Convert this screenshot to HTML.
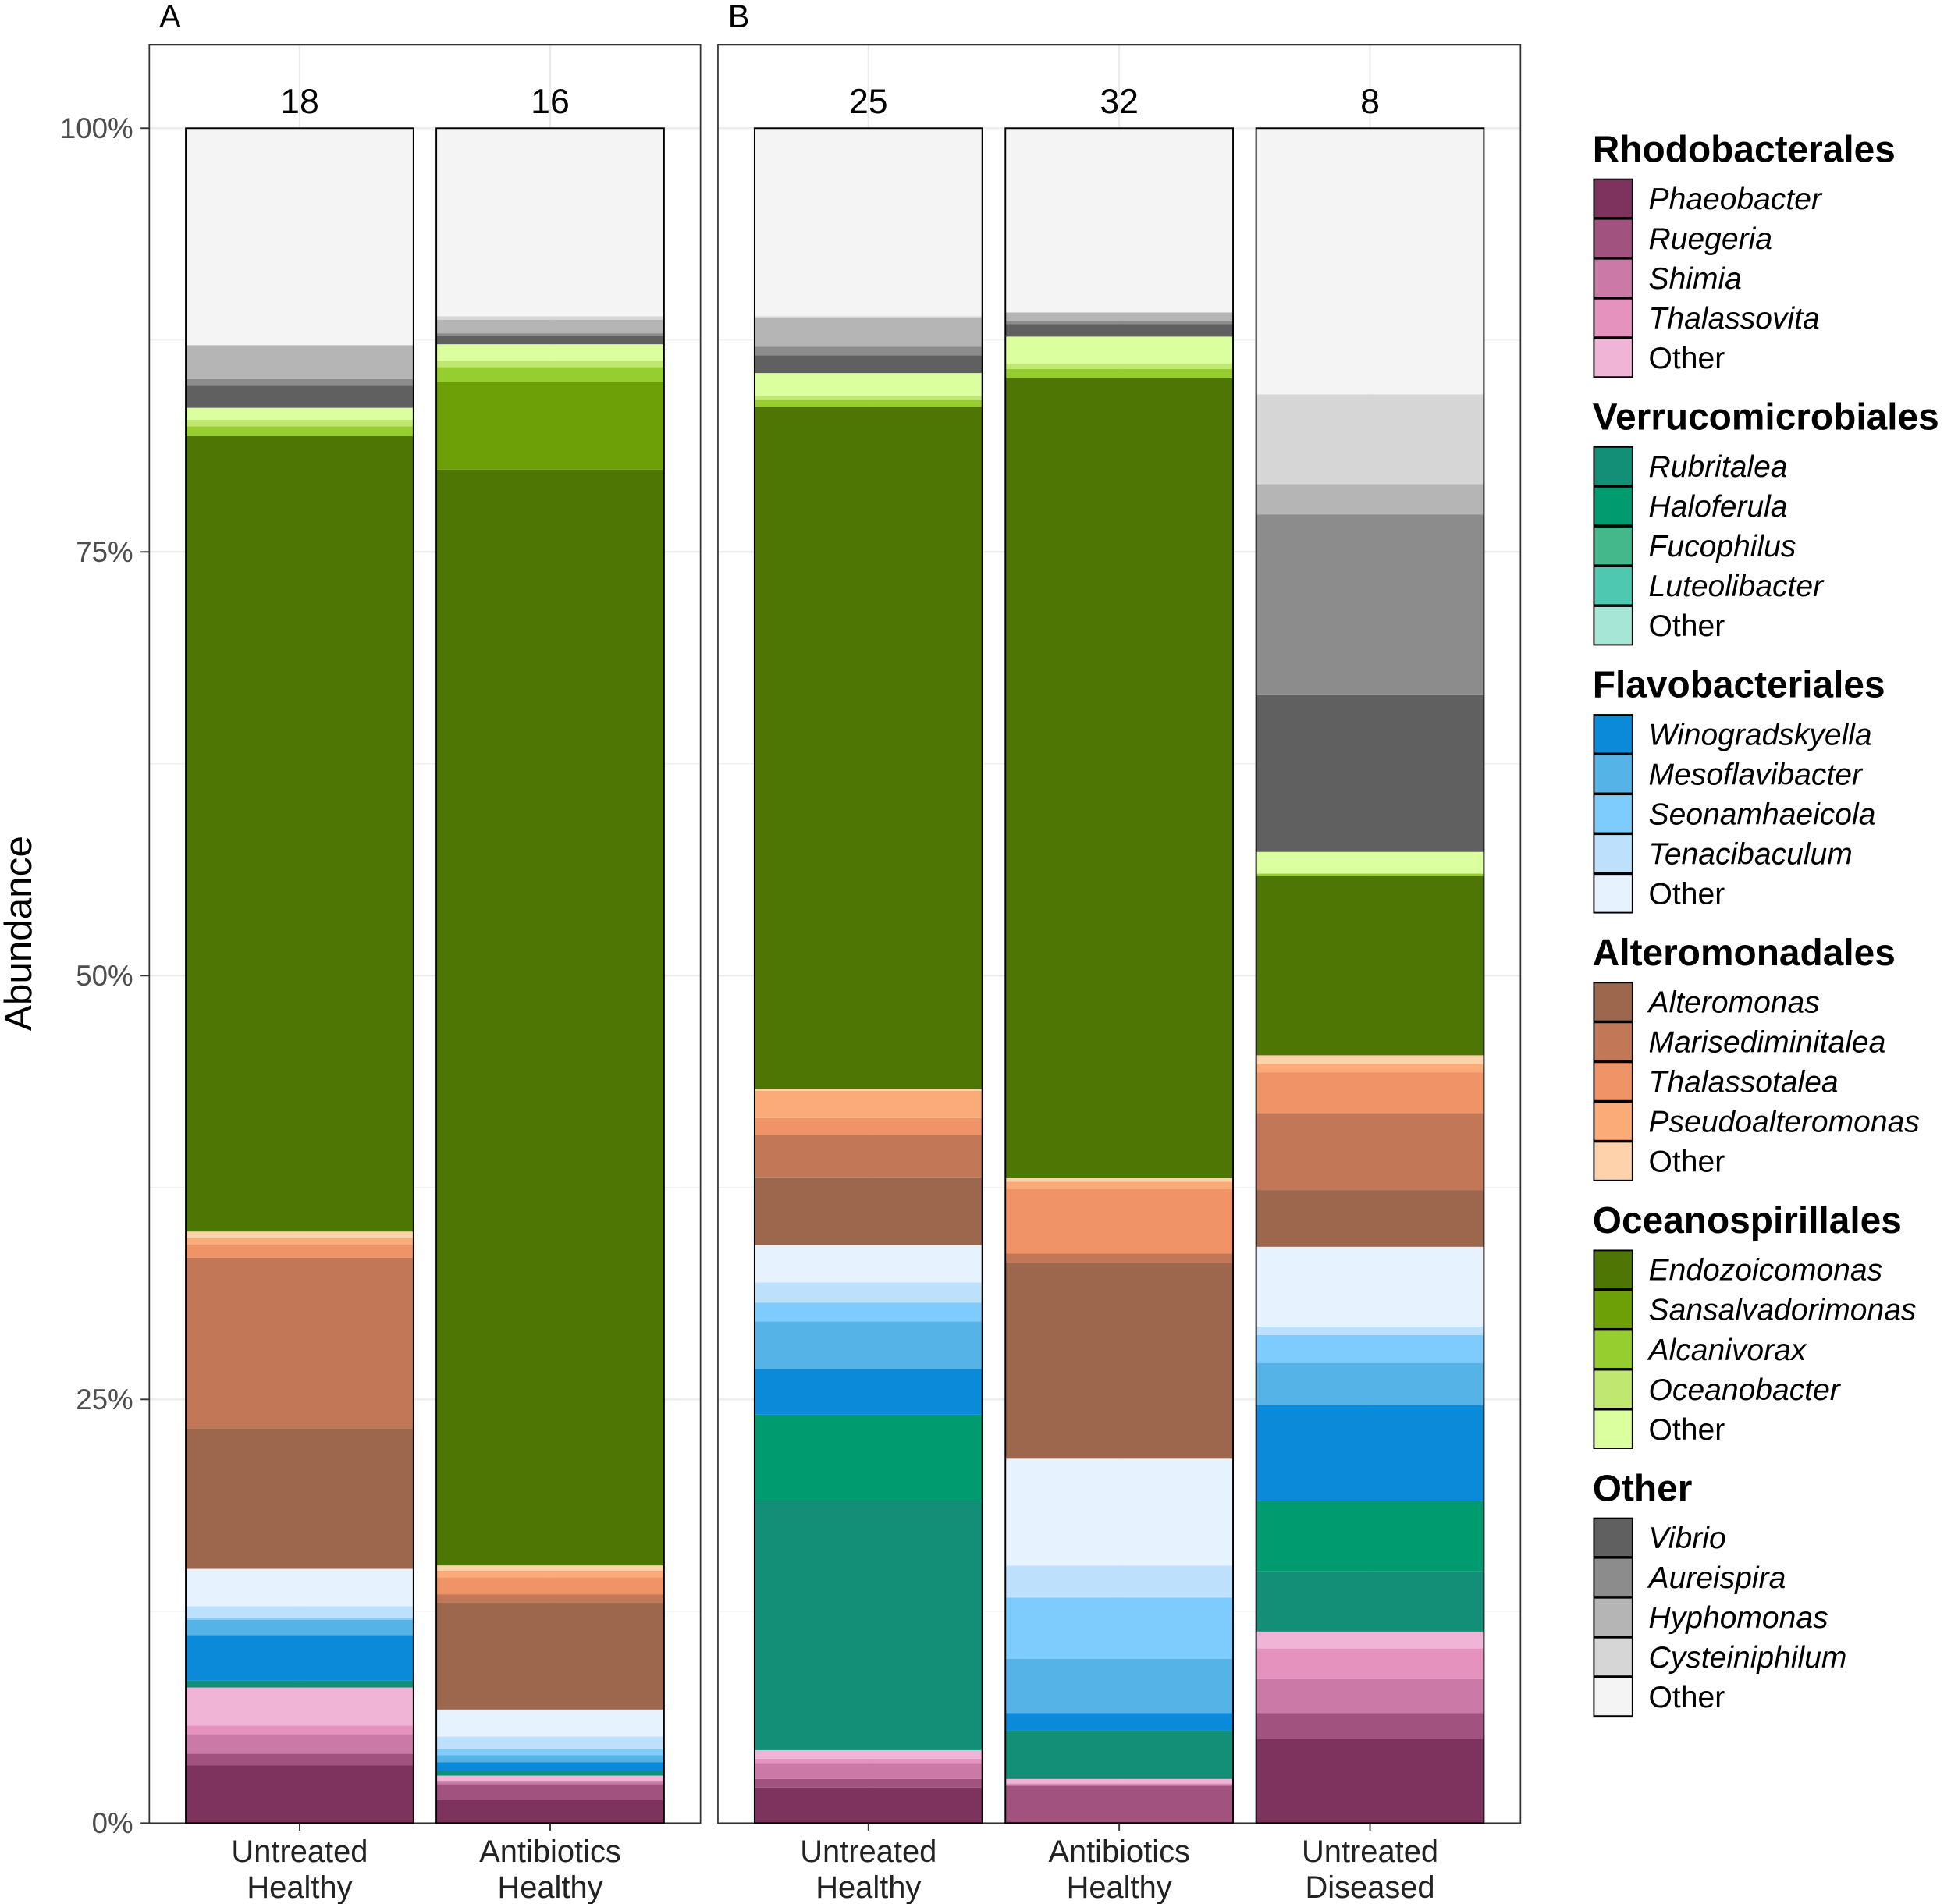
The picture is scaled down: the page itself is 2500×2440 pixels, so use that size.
<!DOCTYPE html>
<html><head><meta charset="utf-8"><style>
html,body{margin:0;padding:0;background:#fff}
svg{display:block;font-family:"Liberation Sans",Arial,sans-serif}
</style></head><body>
<svg id="chart" width="2500" height="2440" viewBox="0 0 1568 1530" preserveAspectRatio="none" xmlns="http://www.w3.org/2000/svg">
<rect x="0" y="0" width="1568" height="1530" fill="#fff"/>
<g id="grid"></g>
<g id="bars"></g>
<g id="frames"></g>
<g id="axes"></g>
<g id="legend"></g>
</svg>
<script>
const categories = ["Untreated\nHealthy","Antibiotics\nHealthy","Untreated\nHealthy","Antibiotics\nHealthy","Untreated\nDiseased"];
const panels = ["A","A","B","B","B"];
const counts = ["18","16","25","32","8"];
const yTicks = [0,25,50,75,100];
const yTickLabels = ["0%","25%","50%","75%","100%"];
const taxa = ["Phaeobacter","Ruegeria","Shimia","Thalassovita","Other",
"Rubritalea","Haloferula","Fucophilus","Luteolibacter","Other",
"Winogradskyella","Mesoflavibacter","Seonamhaeicola","Tenacibaculum","Other",
"Alteromonas","Marisediminitalea","Thalassotalea","Pseudoalteromonas","Other",
"Endozoicomonas","Sansalvadorimonas","Alcanivorax","Oceanobacter","Other",
"Vibrio","Aureispira","Hyphomonas","Cysteiniphilum","Other"];
const groups = ["Rhodobacterales","Verrucomicrobiales","Flavobacteriales","Alteromonadales","Oceanospirillales","Other"];
const colors = ["#7e335f","#a2527e","#cb79a6","#e692be","#efb4d6",
"#138f78","#009c6f","#44b88a","#4ec8b0","#a6e6d6",
"#0a8ad9","#56b3e8","#7ecbfe","#bde0fc","#e6f2fe",
"#9d674d","#c27856","#f09366","#fbab77","#fed3ab",
"#4e7605","#6da007","#96ce2f","#c0e870","#dbfe9e",
"#606060","#8c8c8c","#b5b5b5","#d6d6d6","#f4f4f4"];
// values (%) per taxon for bars [A-UH, A-AH, B-UH, B-AH, B-UD]
const vPhaeobacter=[3.4,1.35,2.1,0.1,4.98];
const vRuegeria=[0.7,0.95,0.5,2.1,1.52];
const vShimia=[1.15,0.15,0.95,0.1,2.0];
const vThalassovita=[0.5,0.05,0.25,0.05,1.8];
const vRhodoOther=[2.25,0.3,0.5,0.25,1.0];
const vRubritalea=[0.4,0.3,14.7,2.8,3.55];
const vHaloferula=[0,0,5.1,0.05,4.15];
const vFucophilus=[0,0,0,0,0];
const vLuteolibacter=[0,0,0,0,0];
const vVerrOther=[0,0,0,0,0];
const vWinogradskyella=[2.7,0.5,2.7,1.05,5.65];
const vMesoflavibacter=[0.9,0.4,2.8,3.2,2.5];
const vSeonamhaeicola=[0.1,0.35,1.1,3.6,1.65];
const vTenacibaculum=[0.7,0.75,1.2,1.9,0.5];
const vFlavoOther=[2.2,1.6,2.2,6.3,4.7];
const vAlteromonas=[8.3,6.3,4.0,11.55,3.35];
const vMarisediminitalea=[10.05,0.5,2.5,0.55,4.55];
const vThalassotalea=[0.75,1.0,1.0,3.8,2.4];
const vPseudoalteromonas=[0.4,0.4,1.6,0.45,0.5];
const vAlteroOther=[0.4,0.3,0.1,0.2,0.5];
const vEndozoicomonas=[46.94,64.65,40.27,47.2,10.6];
const vSansalvadorimonas=[0,5.2,0,0,0];
const vAlcanivorax=[0.56,0.85,0.38,0.55,0.1];
const vOceanobacter=[0.4,0.4,0.25,0.3,0.05];
const vOceanoOther=[0.7,0.95,1.35,1.6,1.25];
const vVibrio=[1.3,0.5,1.05,0.75,9.25];
const vAureispira=[0.4,0.15,0.5,0.15,10.65];
const vHyphomonas=[2.0,0.8,1.7,0.5,1.8];
const vCysteiniphilum=[0,0.2,0.1,0.05,5.3];
const vOther=[12.8,11.1,11.1,10.85,15.7];

const series=[vPhaeobacter,vRuegeria,vShimia,vThalassovita,vRhodoOther,vRubritalea,vHaloferula,vFucophilus,vLuteolibacter,vVerrOther,
vWinogradskyella,vMesoflavibacter,vSeonamhaeicola,vTenacibaculum,vFlavoOther,vAlteromonas,vMarisediminitalea,vThalassotalea,vPseudoalteromonas,vAlteroOther,
vEndozoicomonas,vSansalvadorimonas,vAlcanivorax,vOceanobacter,vOceanoOther,vVibrio,vAureispira,vHyphomonas,vCysteiniphilum,vOther];

const NS="http://www.w3.org/2000/svg";
const Y0=1465, Y100=103;
function y(v){return Y0-(v/100)*(Y0-Y100);}
const panelBox={A:[120,563],B:[577,1222]};
const PT=36;
const barW=183;
function mk(tag,attrs,parent){const e=document.createElementNS(NS,tag);for(const k in attrs)e.setAttribute(k,attrs[k]);parent.appendChild(e);return e;}
const G=document.getElementById("grid"),B=document.getElementById("bars"),F=document.getElementById("frames"),A=document.getElementById("axes"),L=document.getElementById("legend");

for(const p of ["A","B"]){
  const [l,r]=panelBox[p];
  for(let t=0;t<=100;t+=12.5){
    const ln=mk("line",{x1:l,x2:r,y1:y(t),y2:y(t),stroke:"#ebebeb","stroke-width":t%25===0?1.4:0.7},G);
    
    
  }
  const fr=mk("rect",{x:l,y:PT,width:r-l,height:Y0-PT,fill:"none",stroke:"#333","stroke-width":1.1},F);
  
  
  const lt=mk("text",{x:l+8,y:22,"font-size":26,fill:"#000"},A);lt.textContent=p;
  
  
}
function cx(i){
  const p=panels[i];const [l,r]=panelBox[p];const n=panels.filter(q=>q===p).length;
  const idx=panels.slice(0,i).filter(q=>q===p).length;
  const unit=(r-l)/(n+0.2);
  return l+unit*0.6+unit*idx;
}
for(let i=0;i<categories.length;i++){
  const c=cx(i);const x0=c-barW/2;
  const gl=mk("line",{x1:c,x2:c,y1:PT,y2:Y0,stroke:"#ebebeb","stroke-width":1.4},G);
  
  
  let cum=0;
  for(let s=0;s<series.length;s++){
    const v=series[s][i];
    if(v>0){
      const r=mk("rect",{x:x0,y:y(cum+v),width:barW,height:y(cum)-y(cum+v),fill:colors[s]},B);
      
      
    }
    cum+=v;
  }
  const o=mk("rect",{x:x0,y:y(cum),width:barW,height:y(0)-y(cum),fill:"none",stroke:"#000","stroke-width":1.2},F);
  
  
  const ct=mk("text",{x:c,y:91,"font-size":28,"text-anchor":"middle",fill:"#000"},A);ct.textContent=counts[i];
  
  
  const tk=mk("line",{x1:c,x2:c,y1:Y0,y2:Y0+6,stroke:"#333","stroke-width":1.2},A);
  
  
  const lines=categories[i].split("\n");
  lines.forEach((s,k)=>{
    const t=mk("text",{x:c,y:1496+k*29,"font-size":25,"text-anchor":"middle",fill:"#222"},A);t.textContent=s;
    
    
  });
}
yTicks.forEach((t,k)=>{
  const tx=mk("text",{x:107,y:y(t)+8,"font-size":23,"text-anchor":"end",fill:"#4d4d4d"},A);tx.textContent=yTickLabels[k];
  
  
  const tl=mk("line",{x1:113,x2:120,y1:y(t),y2:y(t),stroke:"#333","stroke-width":1.2},A);
  
  
});
const yt=mk("text",{x:0,y:0,"font-size":31,"text-anchor":"middle",fill:"#000",transform:"translate(25,750) rotate(-90)"},A);yt.textContent="Abundance";



for(let g=0;g<groups.length;g++){
  const top=120+g*215.2;
  const ht=mk("text",{x:1280,y:top+10,"font-size":30,"font-weight":"bold",fill:"#000"},L);ht.textContent=groups[g];
  
  
  for(let k=0;k<5;k++){
    const s=g*5+k;const yy=top+24+k*32;
    const sw=mk("rect",{x:1281,y:yy,width:31,height:31,fill:colors[s],stroke:"#000","stroke-width":1.2},L);
    
    
    const lt=mk("text",{x:1325,y:yy+24,"font-size":24.5,fill:"#000","font-style":k<4?"italic":"normal"},L);lt.textContent=taxa[s];
    
    
  }
}
</script>
</body></html>
